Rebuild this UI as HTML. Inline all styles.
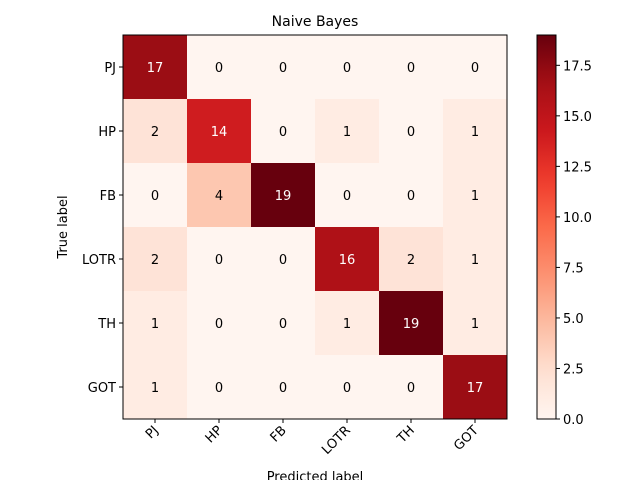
<!DOCTYPE html>
<html><head><meta charset="utf-8"><style>
html,body{margin:0;padding:0;background:#fff;}
svg{display:block;font-family:"DejaVu Sans","Liberation Sans",sans-serif;}
</style></head><body>
<svg id="chart" width="640" height="480" viewBox="0 0 640 480" xmlns="http://www.w3.org/2000/svg">
<text x="315" y="26" font-size="14" text-anchor="middle">Naive Bayes</text>
<text x="0" y="0" font-size="13" text-anchor="middle" transform="translate(67,227) rotate(-90)">True label</text>
<text x="315" y="481" font-size="13" text-anchor="middle">Predicted label</text>
<g id="cells"></g>
<g id="cbar"></g>
</svg>
<script>
const rowLabels = ["PJ","HP","FB","LOTR","TH","GOT"];
const colLabels = ["PJ","HP","FB","LOTR","TH","GOT"];
const matrix = [
 [17,0,0,0,0,0],
 [2,14,0,1,0,1],
 [0,4,19,0,0,1],
 [2,0,0,16,2,1],
 [1,0,0,1,19,1],
 [1,0,0,0,0,17]
];
const cbarTicks = [0,2.5,5,7.5,10,12.5,15,17.5];
const vmin = 0, vmax = 19;

const NS="http://www.w3.org/2000/svg";
const L=123,T=35,W=384,H=384;
const n=colLabels.length, cw=W/n, ch=H/rowLabels.length;
const xPos=j=>L+j*cw, yPos=i=>T+i*ch;
const reds=["#fff5f0","#fee0d2","#fcbba1","#fc9272","#fb6a4a","#ef3b2c","#cb181d","#a50f15","#67000d"];
function hex(h){return [1,3,5].map(k=>parseInt(h.substr(k,2),16));}
function cmap(t){t=Math.max(0,Math.min(1,t));const s=t*(reds.length-1);const k=Math.min(reds.length-2,Math.floor(s));const f=s-k;const a=hex(reds[k]),b=hex(reds[k+1]);return "rgb("+a.map((v,m)=>Math.round(v+(b[m]-v)*f)).join(",")+")";}
function el(tag,attrs,parent){const e=document.createElementNS(NS,tag);for(const k in attrs)e.setAttribute(k,attrs[k]);parent.appendChild(e);return e;}
const cells=document.getElementById('cells');
const thresh=vmax/2;
matrix.forEach((row,i)=>row.forEach((v,j)=>{
 const r=el('rect',{x:xPos(j),y:yPos(i),width:cw+0.5,height:ch+0.5,fill:cmap((v-vmin)/(vmax-vmin))},cells);
 
 
 const t=el('text',{x:xPos(j)+cw/2,y:yPos(i)+ch/2+5,'font-size':13,'text-anchor':'middle',fill:v>thresh?'#fff':'#000'},cells);
 t.textContent=v;
 
 
}));
const fr=el('rect',{x:L,y:T,width:W,height:H,fill:'none',stroke:'#000','stroke-width':1},cells);


rowLabels.forEach((lab,i)=>{
 const y=yPos(i)+ch/2;
 el('line',{x1:L-4,x2:L,y1:y,y2:y,stroke:'#000'},cells);
 const t=el('text',{x:L-7,y:y+5,'font-size':13,'text-anchor':'end'},cells);
 t.textContent=lab;
 
 
});
colLabels.forEach((lab,j)=>{
 const x=xPos(j)+cw/2;
 el('line',{x1:x,x2:x,y1:T+H,y2:T+H+4,stroke:'#000'},cells);
 const t=el('text',{x:0,y:0,'font-size':13,'text-anchor':'end',transform:`translate(${x+4},${T+H+12}) rotate(-45)`},cells);
 t.textContent=lab;
 
 
});
// colorbar
const cb=document.getElementById('cbar');
const CX=537,CW=19,CT=35,CH=384;
const defs=el('defs',{},cb);
const g=el('linearGradient',{id:'cg',x1:0,y1:1,x2:0,y2:0},defs);
for(let k=0;k<=20;k++){el('stop',{offset:k/20,'stop-color':cmap(k/20)},g);}
const cr=el('rect',{x:CX,y:CT,width:CW,height:CH,fill:'url(#cg)',stroke:'#000','stroke-width':1},cb);


const cy=v=>CT+CH-(v-vmin)/(vmax-vmin)*CH;
cbarTicks.forEach(v=>{
 const y=cy(v);
 el('line',{x1:CX+CW,x2:CX+CW+4,y1:y,y2:y,stroke:'#000'},cb);
 const t=el('text',{x:CX+CW+7,y:y+5,'font-size':13},cb);
 t.textContent=v.toFixed(1);
 
 
});
</script>
</body></html>
